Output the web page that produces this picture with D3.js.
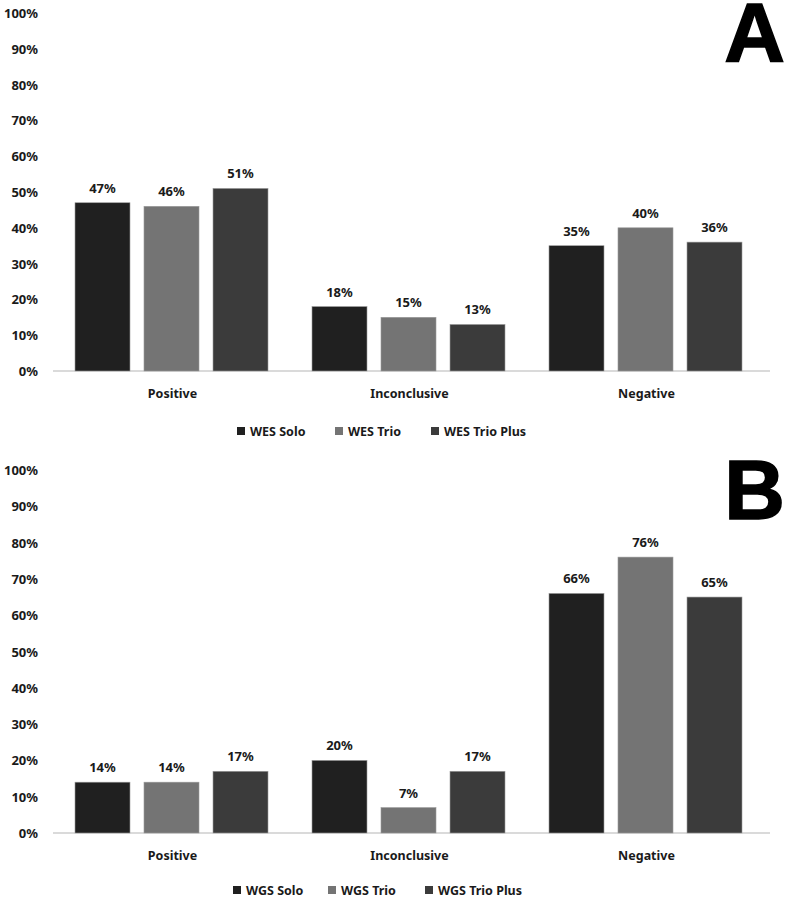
<!DOCTYPE html>
<html>
<head>
<meta charset="utf-8">
<script src="https://cdn.jsdelivr.net/npm/d3@7"></script>
<style>
  body { margin: 0; background: #fff; }
  text { font-family: "Noto Sans", sans-serif; }
</style>
</head>
<body>
<svg id="chart" width="787" height="900"></svg>
<script>
const categories = ["Positive", "Inconclusive", "Negative"]
const seriesA = ["WES Solo", "WES Trio", "WES Trio Plus"]
const seriesB = ["WGS Solo", "WGS Trio", "WGS Trio Plus"]
// values per series, in category order
const valuesA = [[47, 18, 35], [46, 15, 40], [51, 13, 36]]
const valuesB = [[14, 20, 66], [14, 7, 76], [17, 17, 65]]
const yTicks = [0, 10, 20, 30, 40, 50, 60, 70, 80, 90, 100]
const colors = ["#202020", "#747474", "#3b3b3b"]

const svg = d3.select("#chart")

function panel(letter, series, values, top, base, legendX, legendDy) {
    const g = svg.append("g")

    const y = d3.scaleLinear().domain([0, 100]).range([base, top])
    const x0 = d3.scaleBand().domain(categories).range([53, 764])
    const x1 = d3.scaleBand().domain(series).range([22, 215]).paddingInner(0.203)

    // y tick labels
    g.selectAll(".ytick")
        .data(yTicks)
        .enter().append("text")
        .attr("x", 38)
        .attr("y", d => y(d) + 5)
        .attr("text-anchor", "end")
        .style("font-size", "13px")
        .style("font-weight", "bold")
        .style("fill", "#1a1a1a")
        .text(d => d + "%")

    // baseline
    g.append("line")
        .attr("x1", 53).attr("x2", 770)
        .attr("y1", base).attr("y2", base)
        .style("stroke", "#b5b5b5")
        .style("stroke-width", 1.2)

    series.forEach((s, si) => {
        const sg = g.append("g")
        sg.selectAll("rect")
            .data(values[si])
            .enter().append("rect")
            .attr("x", (d, i) => x0(categories[i]) + x1(s))
            .attr("y", d => y(d))
            .attr("width", x1.bandwidth())
            .attr("height", d => base - y(d))
            .style("fill", colors[si])
            .style("stroke", "#9a9a9a")
            .style("stroke-width", 0.6)

        sg.selectAll("text")
            .data(values[si])
            .enter().append("text")
            .attr("x", (d, i) => x0(categories[i]) + x1(s) + x1.bandwidth() / 2)
            .attr("y", d => y(d) - 10)
            .attr("text-anchor", "middle")
            .style("font-size", "13px")
            .style("font-weight", "bold")
            .style("fill", "#1a1a1a")
            .text(d => d + "%")
    })

    // category labels
    g.selectAll(".cat")
        .data(categories)
        .enter().append("text")
        .attr("x", d => x0(d) + x0.bandwidth() / 2 + 1)
        .attr("y", base + 27)
        .attr("text-anchor", "middle")
        .style("font-size", "12.5px")
        .style("font-weight", "bold")
        .style("fill", "#1a1a1a")
        .text(d => d)

    // legend
    const lg = g.append("g").attr("transform", `translate(0, ${base + legendDy})`)
    series.forEach((s, si) => {
        lg.append("rect")
            .attr("x", legendX[si]).attr("y", -5)
            .attr("width", 8).attr("height", 8)
            .style("fill", colors[si])
        lg.append("text")
            .attr("x", legendX[si] + 13).attr("y", 4)
            .style("font-size", "12.5px")
            .style("font-weight", "bold")
            .style("fill", "#1a1a1a")
            .text(s)
    })

    // panel letter
    g.append("text")
        .attr("x", 785)
        .attr("y", top + 49)
        .attr("text-anchor", "end")
        .style("font-family", "'Liberation Sans', Arial, sans-serif")
        .style("font-size", "84px")
        .style("font-weight", "bold")
        .style("fill", "#000")
        .style("stroke", "#000")
        .style("stroke-width", 1.5)
        .text(letter)
}

panel("A", seriesA, valuesA, 13, 371, [237, 335, 431], 61)
panel("B", seriesB, valuesB, 470, 833, [233, 328, 425], 58)
</script>
</body>
</html>
